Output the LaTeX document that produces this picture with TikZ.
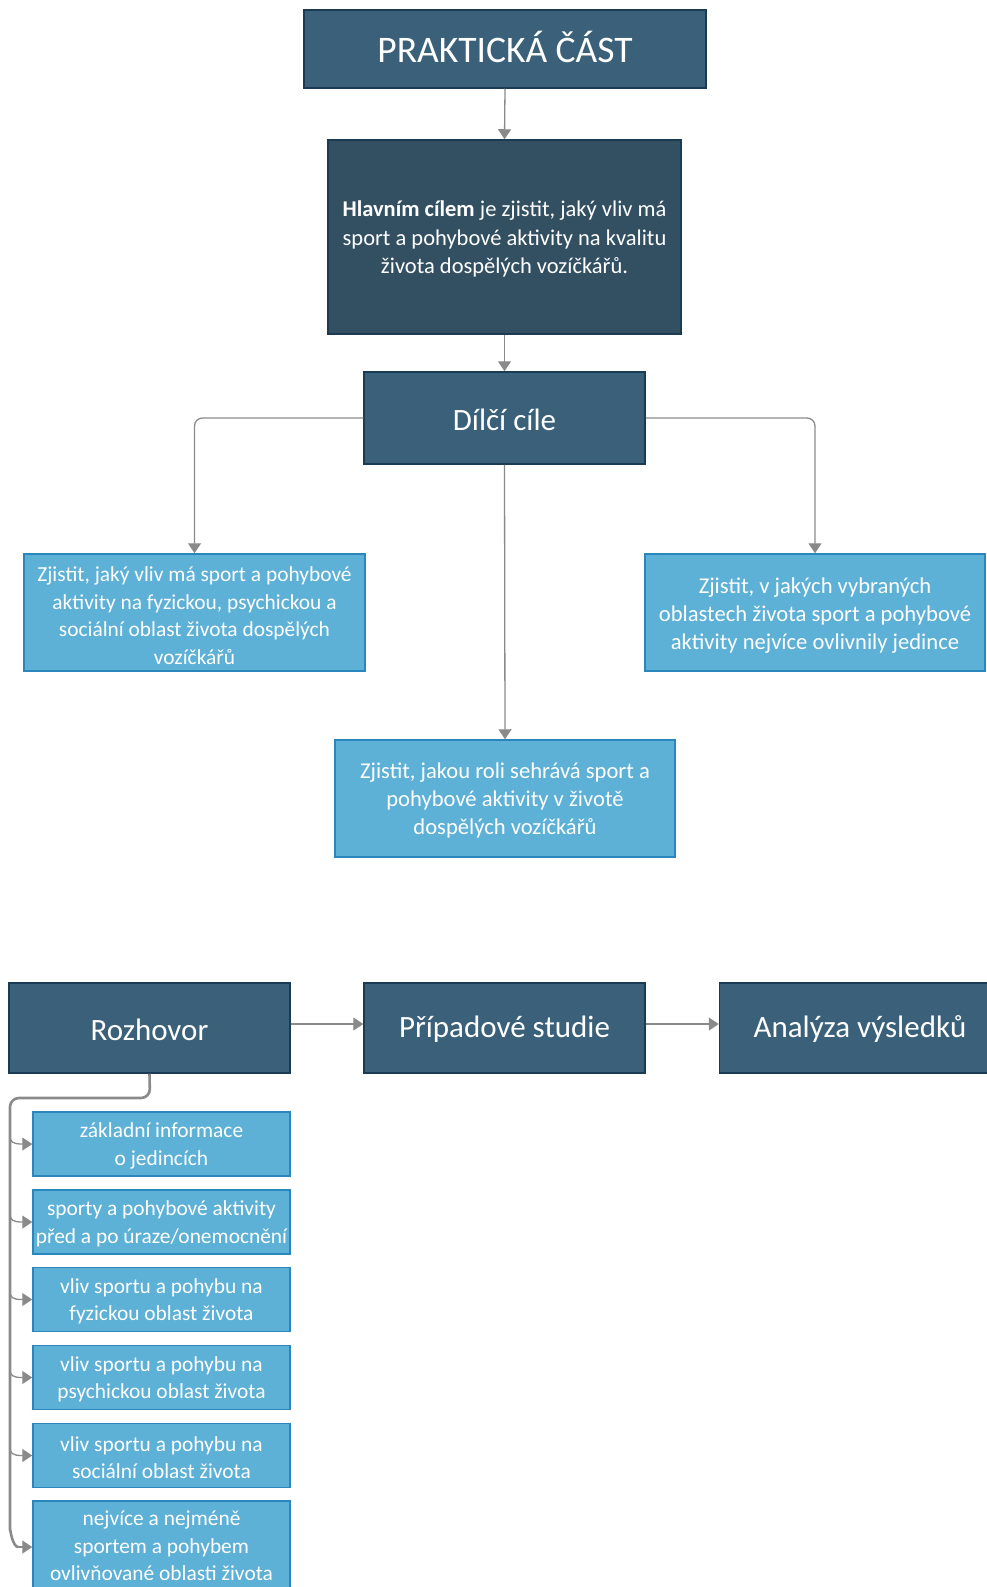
\documentclass[tikz,border=0pt]{standalone}
\usepackage{fontspec}
\setmainfont{Carlito}
\usetikzlibrary{arrows.meta}
\definecolor{darkbox}{HTML}{3A6179}
\definecolor{darkedge}{HTML}{1B3B55}
\definecolor{mainbox}{HTML}{335063}
\definecolor{lightbox}{HTML}{5DB0D6}
\definecolor{lightedge}{HTML}{2A86BC}
\definecolor{conngray}{HTML}{8A8A8A}
\tikzset{
  base/.style={rectangle, inner sep=0pt, line width=1.5pt},
  darknode/.style={base, fill=darkbox, draw=darkedge},
  mainnode/.style={base, fill=mainbox, draw=darkedge},
  lightnode/.style={base, fill=lightbox, draw=lightedge},
  txt/.style={align=center, text=white, inner sep=0pt},
  smalltext/.style={txt, font=\fontsize{21.4}{27.5}\selectfont},
  midtext/.style={txt, font=\fontsize{22.6}{28.3}\selectfont},
  bigtext/.style={txt, font=\fontsize{31}{36}\selectfont},
  conn/.style={draw=conngray, line width=1.3pt, -{Triangle[width=13pt,length=10pt]}, rounded corners=8pt},
  trunk/.style={draw=conngray, line width=2.6pt, rounded corners=9pt},
  branch/.style={draw=conngray, line width=1.3pt, -{Triangle[width=13pt,length=10pt]}}
}
\begin{document}
\begin{tikzpicture}[x=1pt,y=-1pt]
\useasboundingbox (0,0) rectangle (987,1587);
\clip (0,0) rectangle (987,1587);

% boxes
\node[darknode, minimum width=402pt, minimum height=78pt] (title) at (505,49) {};
\node[mainnode, minimum width=353pt, minimum height=194pt] (main) at (504.5,237) {};
\node[darknode, minimum width=281pt, minimum height=92pt] (dilci) at (504.5,418) {};
\node[lightnode, minimum width=341pt, minimum height=117pt] (g1) at (194.5,612.5) {};
\node[lightnode, minimum width=340pt, minimum height=117pt] (g3) at (815,612.5) {};
\node[lightnode, minimum width=340pt, minimum height=117pt] (g2) at (505,798.5) {};
\node[darknode, minimum width=281pt, minimum height=90pt] (roz) at (149.5,1028) {};
\node[darknode, minimum width=281pt, minimum height=90pt] (pripad) at (504.5,1028) {};
\node[darknode, minimum width=281pt, minimum height=90pt] (analyza) at (860,1028) {};
\node[lightnode, minimum width=257pt, minimum height=64pt] (s1) at (161.5,1144) {};
\node[lightnode, minimum width=257pt, minimum height=64pt] (s2) at (161.5,1222) {};
\node[lightnode, minimum width=257pt, minimum height=64pt] (s3) at (161.5,1299.5) {};
\node[lightnode, minimum width=257pt, minimum height=64pt] (s4) at (161.5,1377.5) {};
\node[lightnode, minimum width=257pt, minimum height=64pt] (s5) at (161.5,1455.5) {};
\node[lightnode, minimum width=257pt, minimum height=92pt] (s6) at (161.5,1547) {};

% texts
\node[txt, font=\fontsize{37.5}{40}\selectfont] (titlet) at ([yshift=2pt]title.center) {PRAKTICKÁ ČÁST};
\node[midtext, font=\fontsize{22.5}{28.3}\selectfont] (maint) at ([yshift=-2pt]main.center)
  {\textbf{Hlavním cílem} je zjistit, jaký vliv má\\sport a pohybové aktivity na kvalitu\\života dospělých vozíčkářů.};
\node[bigtext] (dilcit) at ([yshift=-2pt]dilci.center) {Dílčí cíle};
\node[smalltext] (g1t) at ([yshift=-3pt]g1.center)
  {Zjistit, jaký vliv má sport a pohybové\\aktivity na fyzickou, psychickou a\\sociální oblast života dospělých\\vozíčkářů};
\node[midtext] (g3t) at ([yshift=-3pt]g3.center)
  {Zjistit, v jakých vybraných\\oblastech života sport a pohybové\\aktivity nejvíce ovlivnily jedince};
\node[midtext] (g2t) at ([yshift=-2pt]g2.center)
  {Zjistit, jakou roli sehrává sport a\\pohybové aktivity v životě\\dospělých vozíčkářů};
\node[bigtext] (rozt) at ([yshift=-2pt]roz.center) {Rozhovor};
\node[bigtext] (pripadt) at ([yshift=-1pt]pripad.center) {Případové studie};
\node[bigtext] (analyzat) at ([yshift=-1pt]analyza.center) {Analýza výsledků};
\node[smalltext] (s1t) at ([yshift=-2pt]s1.center) {základní informace\\o jedincích};
\node[smalltext] (s2t) at ([yshift=-2pt]s2.center) {sporty a pohybové aktivity\\před a po úraze/onemocnění};
\node[smalltext] (s3t) at ([yshift=-2pt]s3.center) {vliv sportu a pohybu na\\fyzickou oblast života};
\node[smalltext] (s4t) at ([yshift=-2pt]s4.center) {vliv sportu a pohybu na\\psychickou oblast života};
\node[smalltext] (s5t) at ([yshift=-2pt]s5.center) {vliv sportu a pohybu na\\sociální oblast života};
\node[smalltext] (s6t) at ([yshift=1pt]s6.center) {nejvíce a nejméně\\sportem a pohybem\\ovlivňované oblasti života};

% top connectors
\draw[conn] (title.south) -- (main.north);
\draw[conn] (main.south) -- (dilci.north);
\draw[conn] (dilci.west) -| (g1.north);
\draw[conn] (dilci.east) -| (g3.north);
\draw[conn] (dilci.south) -- (g2.north);

% bottom row
\draw[conn] ([yshift=4pt]roz.east) -- ([yshift=4pt]pripad.west);
\draw[conn] ([yshift=4pt]pripad.east) -- ([yshift=4pt]analyza.west);

% trunk
\coordinate (tk) at (10,1098);
\coordinate (tb) at (10,1536);
\draw[trunk] (roz.south) -- (150,1098) -- (tk) -- (tb) to[out=90,in=180] ([xshift=-14pt]s6.west);
\foreach \s in {s1,s2,s3,s4,s5}{
  \draw[branch] ([yshift=9pt]\s.west -| tk) .. controls ([yshift=2pt]\s.west -| tk) and ([xshift=-20pt]\s.west) .. (\s.west);
}
\draw[branch] ([xshift=-14pt]s6.west) -- (s6.west);
\end{tikzpicture}
\end{document}
